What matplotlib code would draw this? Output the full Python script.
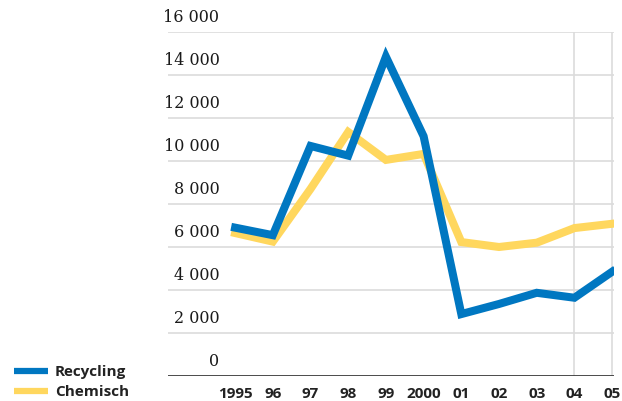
import matplotlib.pyplot as plt
from matplotlib.lines import Line2D

# Data
years = [1995, 1996, 1997, 1998, 1999, 2000, 2001, 2002, 2003, 2004, 2005]
year_labels = ['1995', '96', '97', '98', '99', '2000', '01', '02', '03', '04', '05']
recycling = [6900, 6550, 10700, 10250, 14850, 11150, 2880, 3350, 3870, 3640, 4850]
chemisch = [6650, 6250, 8700, 11350, 10050, 10330, 6230, 6000, 6200, 6880, 7080]
y_ticks = [0, 2000, 4000, 6000, 8000, 10000, 12000, 14000, 16000]
series_names = ['Recycling', 'Chemisch']

blue = '#0077c1'
yellow = '#ffd75e'
grid_col = '#dcdcdc'

fig = plt.figure(figsize=(6.22, 4.02), dpi=100)
ax = fig.add_axes([168 / 622, 25 / 402, 446 / 622, 344 / 402])

ax.set_xlim(1993.22, 2005.05)
ax.set_ylim(0, 16000)

# horizontal grid lines
for v in y_ticks[1:]:
    ax.axhline(v, color=grid_col, lw=1.2, zorder=1)
# vertical lines at 04 and 05
ax.axvline(2004, color=grid_col, lw=1.2, zorder=1)
ax.axvline(2005, color=grid_col, lw=1.2, zorder=1)
# baseline
ax.axhline(0, color='#3a3a3a', lw=2, zorder=3)

ax.plot(years, chemisch, color=yellow, lw=5.8, solid_joinstyle='miter', zorder=2)
ax.plot(years, recycling, color=blue, lw=5.8, solid_joinstyle='miter', zorder=2.5)

for sp in ax.spines.values():
    sp.set_visible(False)
ax.set_xticks([])
ax.set_yticks([])

# y labels sit above the grid lines, right aligned
for v in y_ticks:
    ax.annotate(f'{v:,}'.replace(',', ' ') if v else '0',
                xy=(0, v), xycoords=('axes fraction', 'data'),
                xytext=(37, 5), textcoords='offset points',
                ha='right', va='bottom', fontsize=11.5,
                family='DejaVu Serif', color='#1a1a1a')

for x, lab in zip(years, year_labels):
    ax.annotate(lab, xy=(x, 0), xycoords='data',
                xytext=(0, -15), textcoords='offset points',
                ha='center', va='baseline', fontsize=11, fontweight='bold',
                family='Open Sans', color='#222222')

# legend drawn by hand at the lower left
for i, (name, col) in enumerate(zip(series_names, [blue, yellow])):
    yy = 1 - (372 + 20 * i) / 402
    fig.add_artist(Line2D([14 / 622, 48 / 622], [yy, yy], color=col, lw=4.5,
                          solid_capstyle='butt'))
    fig.text(55 / 622, yy, name, ha='left', va='center', fontsize=11,
             fontweight='bold', family='Open Sans', color='#222222')

fig.savefig('out.png', dpi=100)
